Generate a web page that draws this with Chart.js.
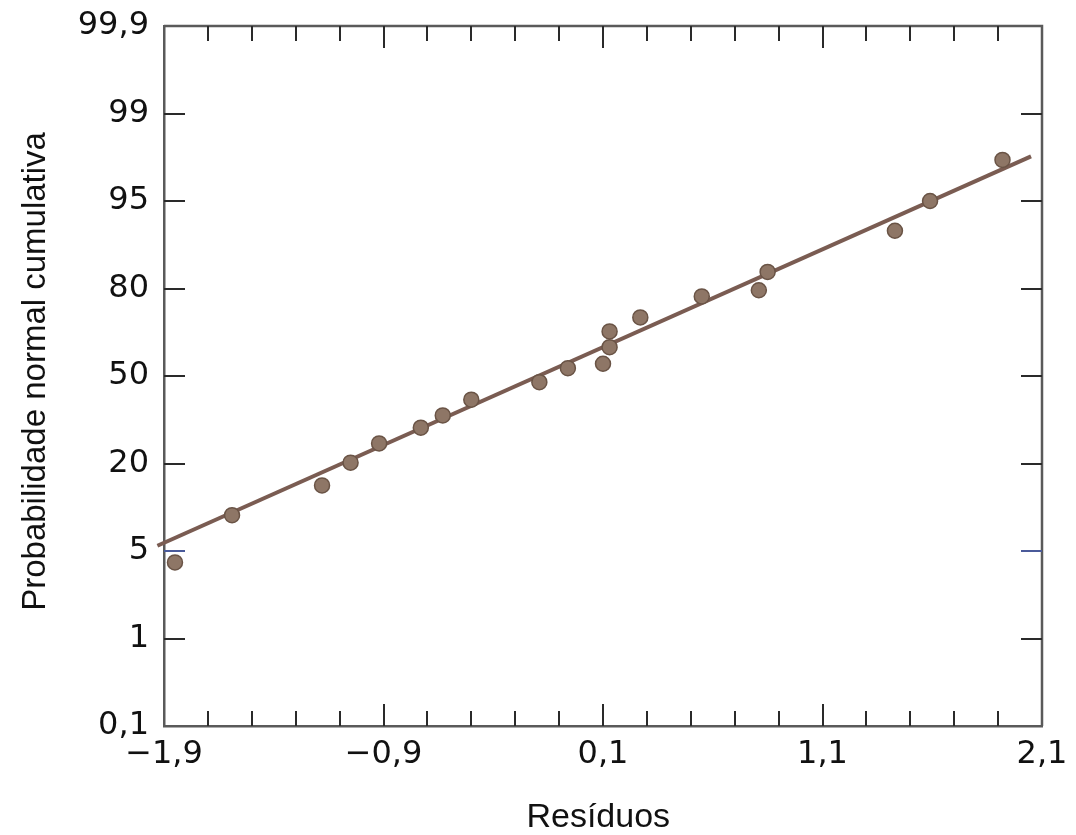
<!DOCTYPE html>
<html>
<head>
<meta charset="utf-8">
<script src="https://cdn.jsdelivr.net/npm/chart.js@4"></script>
<style>
  html, body { margin: 0; padding: 0; background: #fff; }
  #wrap { width: 1076px; height: 835px; }
</style>
</head>
<body>
<div id="wrap"><canvas id="myChart" width="1076" height="835"></canvas></div>
<script>
// residuos (eixo x) e posicao na escala de probabilidade (0 = 0,1 ... 8 = 99,9)
const residuos = [-1.85, -1.59, -1.18, -1.05, -0.92, -0.73, -0.63, -0.50, -0.19, -0.06,
                  0.10, 0.13, 0.13, 0.27, 0.55, 0.81, 0.85, 1.43, 1.59, 1.92];
const posProb = [1.87, 2.41, 2.75, 3.01, 3.23, 3.41, 3.55, 3.73, 3.93, 4.09,
                 4.14, 4.33, 4.51, 4.67, 4.91, 4.98, 5.19, 5.66, 6.00, 6.47];

// reta ajustada
const retaX = [-1.93, 2.05];
const retaY = [2.06, 6.51];

const xMajor = [-1.9, -0.9, 0.1, 1.1, 2.1];
const xLabels = ['\u22121,9', '\u22120,9', '0,1', '1,1', '2,1'];
const xMinor = [-1.7, -1.5, -1.3, -1.1, -0.7, -0.5, -0.3, -0.1, 0.3, 0.5, 0.7, 0.9, 1.3, 1.5, 1.7, 1.9];
const yPos = [0, 1, 2, 3, 4, 5, 6, 7, 8];
const yLabels = ['0,1', '1', '5', '20', '50', '80', '95', '99', '99,9'];

const pontos = residuos.map((r, i) => ({x: r, y: posProb[i]}));
const reta = retaX.map((r, i) => ({x: r, y: retaY[i]}));

const frameColor = '#5a5a5a';
const tickColor = '#2a2a2a';

// moldura superior/direita e marcas para dentro
const framePlugin = {
  id: 'frame',
  afterDraw(chart) {
    const ctx = chart.ctx;
    const a = chart.chartArea;
    const xs = chart.scales.x, ys = chart.scales.y;
    ctx.save();
    ctx.strokeStyle = frameColor;
    ctx.lineWidth = 2.5;
    ctx.beginPath();
    ctx.moveTo(a.left, a.top);
    ctx.lineTo(a.right, a.top);
    ctx.lineTo(a.right, a.bottom);
    ctx.stroke();

    ctx.strokeStyle = tickColor;
    ctx.lineWidth = 2;
    const drawX = (vals, len) => {
      vals.forEach(v => {
        const px = Math.round(xs.getPixelForValue(v));
        ctx.beginPath();
        ctx.moveTo(px, a.bottom);
        ctx.lineTo(px, a.bottom - len);
        ctx.moveTo(px, a.top);
        ctx.lineTo(px, a.top + len);
        ctx.stroke();
      });
    };
    drawX(xMinor, 15);
    drawX(xMajor.slice(1, -1), 22);
    yPos.slice(1, -1).forEach(v => {
      const py = Math.round(ys.getPixelForValue(v));
      ctx.strokeStyle = (v === 2) ? '#4a5a9a' : tickColor;
      ctx.beginPath();
      ctx.moveTo(a.left, py);
      ctx.lineTo(a.left + 21, py);
      ctx.moveTo(a.right, py);
      ctx.lineTo(a.right - 21, py);
      ctx.stroke();
    });
    ctx.restore();
  }
};

const config = {
  type: 'scatter',
  data: {
    datasets: [{
      label: 'Reta',
      type: 'line',
      data: reta,
      borderColor: '#7a5c52',
      borderWidth: 4,
      pointRadius: 0,
      clip: false,
      order: 2
    }, {
      label: 'Residuos',
      data: pontos,
      backgroundColor: '#8e7666',
      borderColor: '#6a5446',
      borderWidth: 1.5,
      pointRadius: 7.5,
      order: 1
    }]
  },
  plugins: [framePlugin],
  options: {
    responsive: false,
    animation: false,
    layout: { padding: { left: 0, right: 34, top: 26, bottom: 0 } },
    plugins: { legend: { display: false }, tooltip: { enabled: false } },
    scales: {
      x: {
        type: 'linear',
        min: -1.9,
        max: 2.1,
        afterBuildTicks: s => { s.ticks = xMajor.map(v => ({value: v})); },
        afterFit: s => { s.height = 109; s.paddingLeft = 0; s.paddingRight = 0; },
        grid: { drawOnChartArea: false, drawTicks: false },
        border: { display: true, color: frameColor, width: 2.5 },
        ticks: {
          padding: 9,
          color: '#111',
          font: { family: 'DejaVu Sans', size: 32 },
          maxRotation: 0,
          callback: (v) => xLabels[xMajor.findIndex(m => Math.abs(m - v) < 1e-6)]
        },
        title: {
          display: true,
          text: 'Resíduos ',
          color: '#111',
          font: { family: 'Liberation Sans', size: 34, lineHeight: 1 },
          padding: { top: 0, bottom: 0 }
        }
      },
      y: {
        type: 'linear',
        min: 0,
        max: 8,
        afterBuildTicks: s => { s.ticks = yPos.map(v => ({value: v})); },
        afterFit: s => { s.width = 164; s.paddingTop = 0; s.paddingBottom = 0; },
        grid: { drawOnChartArea: false, drawTicks: false },
        border: { display: true, color: frameColor, width: 2.5 },
        ticks: {
          padding: 15,
          color: '#111',
          font: { family: 'DejaVu Sans', size: 32 },
          callback: (v) => yLabels[yPos.indexOf(v)]
        },
        title: {
          display: true,
          text: ' Probabilidade normal cumulativa',
          color: '#111',
          font: { family: 'Liberation Sans', size: 33, lineHeight: 1 },
          padding: { top: 19, bottom: 0 }
        }
      }
    }
  }
};

let myChart = new Chart(document.getElementById('myChart'), config);
</script>
</body>
</html>
